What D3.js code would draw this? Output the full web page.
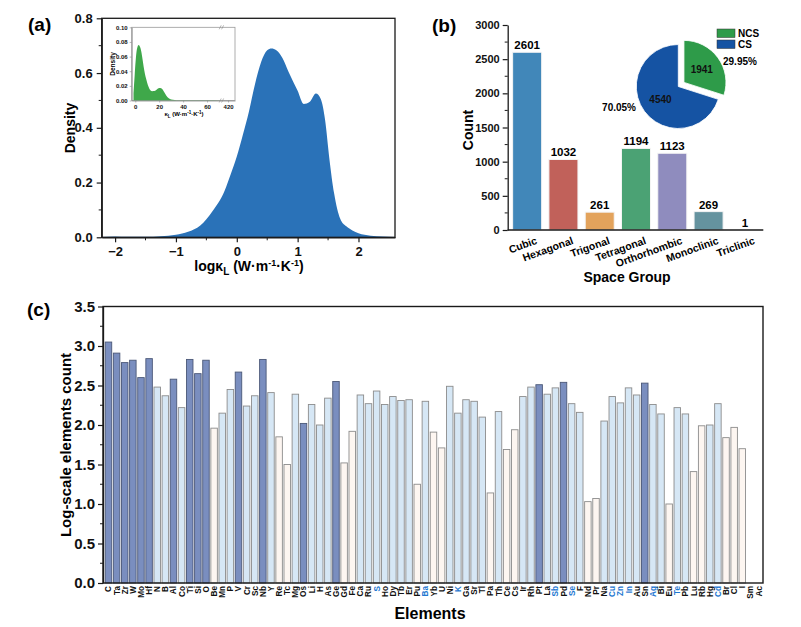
<!DOCTYPE html>
<html><head><meta charset="utf-8">
<script src="https://cdn.jsdelivr.net/npm/d3@7"></script>
<style>
body{margin:0;background:#fff}
svg{font-family:"Liberation Sans",Arial,sans-serif;font-weight:bold}
</style>
</head><body>
<svg id="chart" width="801" height="627"></svg>
<script>
// ---------- DATA ----------
// (a) KDE of log kappa_L
const kdeX = [-2.22,-2.0,-1.8,-1.5,-1.25,-1.0,-0.8,-0.6,-0.4,-0.2,-0.1,0,0.1,0.2,0.3,0.4,0.5,0.57,0.65,0.75,0.85,1.0,1.1,1.2,1.3,1.38,1.45,1.52,1.6,1.7,1.8,1.9,2.0,2.2,2.4,2.6];
const kdeY = [0.001,0.003,0.002,0.002,0.004,0.009,0.02,0.043,0.095,0.17,0.23,0.295,0.375,0.46,0.56,0.64,0.683,0.69,0.683,0.655,0.605,0.535,0.487,0.495,0.525,0.505,0.43,0.29,0.16,0.068,0.04,0.025,0.015,0.006,0.003,0.001];
// (a) inset KDE of kappa_L
const insetX = [-1.5,-0.5,0.5,1.5,2.8,4,5,6,7,8,9,10,11,12,14,16,18,20,22,24,26,28,30,33,36,45,60,72];
const insetY = [0.01,0.035,0.058,0.071,0.0757,0.073,0.067,0.057,0.046,0.037,0.03,0.024,0.019,0.0155,0.0128,0.013,0.015,0.017,0.0165,0.012,0.0065,0.003,0.0015,0.0008,0.0005,0.0003,0.0002,0.0001];
const insetXTicks = [0,20,40,60,420];
// (b) space groups
const spaceGroups = ["Cubic","Hexagonal","Trigonal","Tetragonal","Orthorhombic","Monoclinic","Triclinic"];
const sgCounts = [2601,1032,261,1194,1123,269,1];
const pieLabels = ["NCS","CS"];
const pieValues = [1941,4540];
const piePercents = ["29.95%","70.05%"];
// (c) elements
const elements = ["C","Ta","Zr","W","Mo","Hf","N","B","Al","Co","Ti","Si","O","Be","Mn","P","V","Cr","Sc","Nb","Y","Re","Tc","Mg","Os","Li","H","As","Ge","Gd","Fe","Ca","Ru","S","Ho","Dy","Tb","Er","Pu","Ba","Yb","U","Ni","K","Ga","Sr","Tl","Pa","Th","Ce","Cs","Ir","Rh","Pt","La","Sb","Pd","Se","F","Nd","Pr","Na","Cu","Zn","In","Au","Sn","Ag","Bi","Eu","Te","Pb","Lu","Rb","Hg","Cd","Br","Cl","I","Sm","Ac"];
const elemValues = [3.05,2.91,2.79,2.82,2.60,2.84,2.48,2.37,2.58,2.22,2.83,2.65,2.82,1.96,2.15,2.45,2.67,2.24,2.37,2.83,2.41,1.85,1.50,2.39,2.02,2.26,2.00,2.34,2.55,1.52,1.92,2.38,2.27,2.43,2.26,2.36,2.31,2.32,1.25,2.30,1.91,1.71,2.49,2.15,2.32,2.30,2.10,1.14,2.17,1.69,1.94,2.36,2.48,2.51,2.39,2.47,2.54,2.27,2.16,1.03,1.07,2.05,2.36,2.28,2.47,2.38,2.53,2.26,2.14,1.00,2.22,2.14,1.41,1.99,2.00,2.27,1.84,1.97,1.70,0,0];
const elemGroup = ["d","d","d","d","d","d","l","l","d","l","d","d","d","w","l","l","d","l","l","d","l","w","w","l","d","l","l","l","d","w","w","l","l","l","l","l","l","l","w","l","w","w","l","l","l","l","l","w","l","w","w","l","l","d","l","l","d","l","l","w","w","l","l","l","l","l","d","l","l","w","l","l","w","w","l","l","w","w","w","w","w"];
const blueLabelElems = ["S","Ba","K","Sb","Se","Cu","Zn","In","Ag","Te","Cd"];

// ---------- DRAW ----------
const svg = d3.select("#chart");
const AX = "#1a1a1a";

function minorTicks(g, scale, vals, orient, len){
  vals.forEach(v=>{
    if(orient==="left") g.append("line").attr("x1",0).attr("x2",-len).attr("y1",scale(v)).attr("y2",scale(v)).attr("stroke",AX).attr("stroke-width",1);
    else g.append("line").attr("y1",0).attr("y2",len).attr("x1",scale(v)).attr("x2",scale(v)).attr("stroke",AX).attr("stroke-width",1);
  });
}
function styleAxis(g, fs){
  g.selectAll(".domain").attr("stroke",AX).attr("stroke-width",1.3);
  g.selectAll(".tick line").attr("stroke",AX).attr("stroke-width",1.2);
  g.selectAll(".tick text").attr("fill","#111").style("font-size",fs+"px").style("font-weight","bold").style("font-family",'"Liberation Sans",Arial,sans-serif');
}

// ===== Panel (a) =====
{
  const L=101.7,R=395,T=18.3,B=237.3;
  const x = d3.scaleLinear().domain([-2.22,2.6]).range([L,R]);
  const y = d3.scaleLinear().domain([0,0.8]).range([B,T]);
  const pts = kdeX.map((v,i)=>[v,kdeY[i]]);
  svg.append("path").datum(pts)
    .attr("d", d3.area().x(d=>x(d[0])).y0(y(0)).y1(d=>y(d[1])).curve(d3.curveMonotoneX))
    .attr("fill","#2a72b8");
  const gx = svg.append("g").attr("transform",`translate(0,${B})`)
    .call(d3.axisBottom(x).tickValues([-2,-1,0,1,2]).tickFormat(d3.format("d")).tickSize(5).tickSizeOuter(0).tickPadding(4));
  styleAxis(gx,13);
  minorTicks(gx,x,[-1.5,-0.5,0.5,1.5],"bottom",3);
  const gy = svg.append("g").attr("transform",`translate(${L},0)`)
    .call(d3.axisLeft(y).tickValues([0,0.2,0.4,0.6,0.8]).tickFormat(d3.format(".1f")).tickSize(5).tickSizeOuter(0).tickPadding(4));
  styleAxis(gy,13);
  minorTicks(gy,y,[0.1,0.3,0.5,0.7],"left",3);
  svg.append("rect").attr("x",L).attr("y",T).attr("width",R-L).attr("height",B-T).attr("fill","none").attr("stroke",AX).attr("stroke-width",1.3);
  svg.append("text").attr("x",28).attr("y",31).style("font-size","19px").text("(a)");
  svg.append("text").attr("transform","translate(75,128) rotate(-90)").attr("text-anchor","middle").style("font-size","14px").text("Density");
  const xl = svg.append("text").attr("x",249).attr("y",271).attr("text-anchor","middle").style("font-size","14px");
  xl.append("tspan").text("logκ");
  xl.append("tspan").attr("dy",4).style("font-size","10px").text("L");
  xl.append("tspan").attr("dy",-4).text(" (W·m");
  xl.append("tspan").attr("dy",-5).style("font-size","9px").text("-1");
  xl.append("tspan").attr("dy",5).text("·K");
  xl.append("tspan").attr("dy",-5).style("font-size","9px").text("-1");
  xl.append("tspan").attr("dy",5).text(")");

  // inset
  const iL=131.7,iR=235,iT=27.3,iB=100.5;
  const ix = d3.scaleLinear().domain([-3,72,415,426]).range([iL,221.4,222.3,iR]);
  const iy = d3.scaleLinear().domain([0,0.1]).range([iB,iT]);
  svg.append("rect").attr("x",iL).attr("y",iT).attr("width",iR-iL).attr("height",iB-iT).attr("fill","#fff").attr("stroke","#999").attr("stroke-width",0.8);
  const ipts = insetX.map((v,i)=>[v,insetY[i]]);
  svg.append("path").datum(ipts)
    .attr("d", d3.area().x(d=>ix(d[0])).y0(iy(0)).y1(d=>iy(d[1])).curve(d3.curveMonotoneX))
    .attr("fill","#3fa84a");
  const igx = svg.append("g").attr("transform",`translate(0,${iB})`)
    .call(d3.axisBottom(ix).tickValues(insetXTicks).tickFormat(d3.format("d")).tickSize(2).tickSizeOuter(0).tickPadding(2));
  styleAxis(igx,6); igx.selectAll(".domain").attr("stroke","#888").attr("stroke-width",0.8);
  igx.selectAll(".tick line").attr("stroke","#888").attr("stroke-width",0.6);
  const igy = svg.append("g").attr("transform",`translate(${iL},0)`)
    .call(d3.axisLeft(iy).tickValues([0,0.02,0.04,0.06,0.08,0.1]).tickFormat(d3.format(".2f")).tickSize(2).tickSizeOuter(0).tickPadding(2));
  styleAxis(igy,6); igy.selectAll(".domain").attr("stroke","#888").attr("stroke-width",0.8);
  igy.selectAll(".tick line").attr("stroke","#888").attr("stroke-width",0.6);
  // axis break marks
  [iT,iB].forEach(yy=>{
    [-1.2,1.2].forEach(dx=>{
      svg.append("line").attr("x1",ix(72)+dx-1).attr("x2",ix(72)+dx+1).attr("y1",yy+2).attr("y2",yy-2).attr("stroke","#888").attr("stroke-width",0.6);
    });
  });
  svg.append("text").attr("transform","translate(115,64) rotate(-90)").attr("text-anchor","middle").style("font-size","6.5px").text("Density");
  const ixl = svg.append("text").attr("x",184).attr("y",116).attr("text-anchor","middle").style("font-size","6px");
  ixl.append("tspan").text("κ");
  ixl.append("tspan").attr("dy",1.5).style("font-size","4.5px").text("L");
  ixl.append("tspan").attr("dy",-1.5).text(" (W·m");
  ixl.append("tspan").attr("dy",-2).style("font-size","4.5px").text("-1");
  ixl.append("tspan").attr("dy",2).text("·K");
  ixl.append("tspan").attr("dy",-2).style("font-size","4.5px").text("-1");
  ixl.append("tspan").attr("dy",2).text(")");
}

// ===== Panel (b) =====
{
  const L=507.7,R=763.3,T=25,B=230;
  const x = d3.scaleBand().domain(spaceGroups).range([509,763]).paddingInner(0.2).paddingOuter(0.1);
  const y = d3.scaleLinear().domain([0,3000]).range([B,T]);
  const sgColors = ["#4187b9","#c1615a","#e3a35c","#4ba274","#8f8cbe","#65939f","#9a9a9a"];
  svg.append("g").selectAll("rect").data(spaceGroups).join("rect")
    .attr("x",d=>x(d)).attr("width",x.bandwidth())
    .attr("y",(d,i)=>y(sgCounts[i])).attr("height",(d,i)=>B-y(sgCounts[i]))
    .attr("fill",(d,i)=>sgColors[i]).attr("stroke","#f4f4f4").attr("stroke-width",1);
  svg.append("g").selectAll("text").data(spaceGroups).join("text")
    .attr("x",d=>x(d)+x.bandwidth()/2).attr("y",(d,i)=>y(sgCounts[i])-3)
    .attr("text-anchor","middle").style("font-size","11.5px").text((d,i)=>sgCounts[i]);
  const gy = svg.append("g").attr("transform",`translate(${L},0)`)
    .call(d3.axisLeft(y).tickValues(d3.range(0,3001,500)).tickFormat(d3.format("d")).tickSize(5).tickSizeOuter(0).tickPadding(3));
  styleAxis(gy,11);
  minorTicks(gy,y,d3.range(250,3000,500),"left",3);
  const gx = svg.append("g").attr("transform",`translate(0,${B})`);
  gx.append("line").attr("x1",L).attr("x2",R).attr("stroke",AX).attr("stroke-width",1.3);
  gx.selectAll("text").data(spaceGroups).join("text")
    .attr("transform",d=>`translate(${x(d)+x.bandwidth()/2+8},${6}) rotate(-20)`)
    .attr("text-anchor","end").attr("dy","0.75em").style("font-size","10.5px").text(d=>d);
  svg.append("text").attr("x",627).attr("y",282).attr("text-anchor","middle").style("font-size","14px").text("Space Group");
  svg.append("text").attr("transform","translate(473,130) rotate(-90)").attr("text-anchor","middle").style("font-size","14px").text("Count");
  svg.append("text").attr("x",432).attr("y",32).style("font-size","19px").text("(b)");

  // pie
  const cx=678.3, cy=86.5, r=42;
  const pieColors = ["#2e9b49","#1553a3"];
  const arcs = d3.pie().sort(null)(pieValues);
  const arc = d3.arc().innerRadius(0).outerRadius(r);
  const g = svg.append("g").attr("transform",`translate(${cx},${cy})`);
  arcs.forEach((a,i)=>{
    const mid=(a.startAngle+a.endAngle)/2;
    const off = i===0?7:0;
    const dx=Math.sin(mid)*off, dy=-Math.cos(mid)*off;
    const gg = g.append("g").attr("transform",`translate(${dx},${dy})`);
    gg.append("path").attr("d",arc(a)).attr("fill",pieColors[i]).attr("stroke","#fff").attr("stroke-width",0.8);
    const c = d3.arc().innerRadius(0).outerRadius(r*1.05).centroid(a);
    gg.append("text").attr("x",c[0]).attr("y",c[1]+4).attr("text-anchor","middle").style("font-size","10px").attr("fill","#111").text(pieValues[i]);
  });
  svg.append("text").attr("x",723).attr("y",65).style("font-size","10px").text(piePercents[0]);
  svg.append("text").attr("x",636).attr("y",111).attr("text-anchor","end").style("font-size","10px").text(piePercents[1]);
  pieLabels.forEach((lab,i)=>{
    svg.append("rect").attr("x",717).attr("y",29+i*11).attr("width",18).attr("height",8.5).attr("fill",pieColors[i]).attr("stroke","#333").attr("stroke-width",0.5);
    svg.append("text").attr("x",738).attr("y",37+i*11).style("font-size","10px").text(lab);
  });
}

// ===== Panel (c) =====
{
  const L=103,R=763,T=306.5,B=583;
  const x = d3.scaleBand().domain(elements).range([104,763]).paddingInner(0.2).paddingOuter(0.15);
  const y = d3.scaleLinear().domain([0,3.5]).range([B,T]);
  const fillMap = {d:"#7a8ebf", l:"#d6e7f5", w:"#fdf6f1"};
  const strokeMap = {d:"#4b5878", l:"#8c8c8c", w:"#8c8c8c"};
  svg.append("g").selectAll("rect").data(elements).join("rect")
    .attr("x",d=>x(d)).attr("width",x.bandwidth())
    .attr("y",(d,i)=>y(elemValues[i])).attr("height",(d,i)=>B-y(elemValues[i]))
    .attr("fill",(d,i)=>fillMap[elemGroup[i]]).attr("stroke",(d,i)=>strokeMap[elemGroup[i]]).attr("stroke-width",0.9);
  const gy = svg.append("g").attr("transform",`translate(${L},0)`)
    .call(d3.axisLeft(y).tickValues(d3.range(0,3.51,0.5)).tickFormat(d3.format(".1f")).tickSize(5).tickSizeOuter(0).tickPadding(3));
  styleAxis(gy,15);
  minorTicks(gy,y,d3.range(0.25,3.5,0.5),"left",3);
  svg.append("rect").attr("x",L).attr("y",T).attr("width",R-L).attr("height",B-T).attr("fill","none").attr("stroke",AX).attr("stroke-width",1.4);
  svg.append("g").selectAll("text").data(elements).join("text")
    .attr("transform",d=>`translate(${x(d)+x.bandwidth()/2+3},${B+3}) rotate(-90)`)
    .attr("text-anchor","end").style("font-size","8.2px")
    .attr("fill",d=>blueLabelElems.includes(d)?"#1f78d1":"#111").text(d=>d);
  svg.append("text").attr("transform","translate(71,445) rotate(-90)").attr("text-anchor","middle").style("font-size","15px").text("Log-scale elements count");
  svg.append("text").attr("x",430).attr("y",619).attr("text-anchor","middle").style("font-size","16px").text("Elements");
  svg.append("text").attr("x",27).attr("y",316).style("font-size","19px").text("(c)");
}
</script>
</body></html>
